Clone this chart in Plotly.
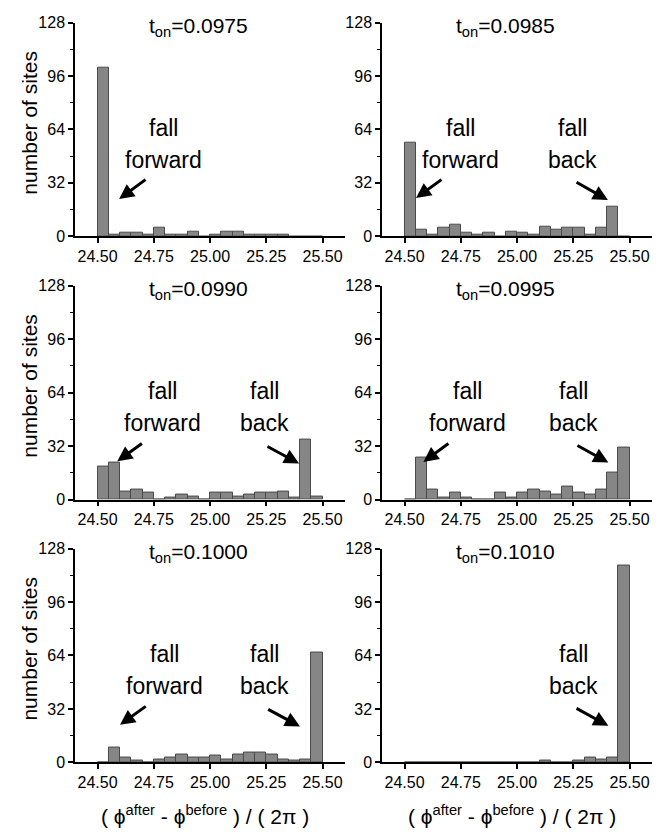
import plotly.graph_objects as go

# ---- data ----
bin_lefts = [24.50, 24.55, 24.60, 24.65, 24.70, 24.75, 24.80, 24.85, 24.90, 24.95,
             25.00, 25.05, 25.10, 25.15, 25.20, 25.25, 25.30, 25.35, 25.40, 25.45]
bin_width = 0.05
ton_labels = ["0.0975", "0.0985", "0.0990", "0.0995", "0.1000", "0.1010"]
counts_0975 = [101, 1, 2, 2, 1, 5, 1, 1, 3, 0, 1, 3, 3, 1, 1, 1, 1, 0, 0, 0]
counts_0985 = [56, 4, 1, 5, 7, 2, 1, 2, 0, 3, 2, 1, 6, 4, 5, 5, 1, 5, 18, 0]
counts_0990 = [20, 22, 5, 6, 4, 0, 1, 3, 2, 0, 4, 4, 2, 3, 4, 4, 5, 1, 36, 2]
counts_0995 = [0, 25, 6, 1, 4, 1, 0, 0, 4, 1, 4, 6, 5, 3, 8, 4, 3, 6, 16, 31]
counts_1000 = [0, 9, 3, 1, 0, 2, 3, 5, 3, 3, 4, 2, 5, 6, 6, 5, 2, 1, 2, 66]
counts_1010 = [0, 0, 0, 0, 0, 0, 0, 0, 0, 0, 0, 0, 1, 0, 0, 1, 3, 2, 3, 118]
x_tick_vals = [24.50, 24.75, 25.00, 25.25, 25.50]
x_tick_text = ["24.50", "24.75", "25.00", "25.25", "25.50"]
y_tick_vals = [0, 32, 64, 96, 128]
y_tick_text = ["0", "32", "64", "96", "128"]

all_counts = [counts_0975, counts_0985, counts_0990, counts_0995, counts_1000, counts_1010]

W, H = 669, 840
FONT = "Liberation Sans, Arial, Helvetica, sans-serif"

col_px = [(75, 345), (382, 652)]
row_px = [(15, 233), (283.3, 501.7), (551.7, 770)]

fig = go.Figure()
layout = dict(
    width=W, height=H,
    margin=dict(l=0, r=0, t=0, b=0),
    paper_bgcolor="white", plot_bgcolor="white",
    showlegend=False, bargap=0,
    font=dict(family=FONT, color="black"),
)
annotations = []

centers = [b + bin_width / 2 for b in bin_lefts]

for i, counts in enumerate(all_counts):
    r, c = i // 2, i % 2
    sfx = "" if i == 0 else str(i + 1)
    xa, ya = "x" + sfx, "y" + sfx
    fig.add_trace(go.Bar(
        x=centers, y=counts, width=[bin_width] * len(centers),
        marker=dict(color="#868686", line=dict(color="#4a4a4a", width=1)),
        xaxis=xa, yaxis=ya, hoverinfo="x+y",
    ))
    x0, x1 = col_px[c]
    y0, y1 = row_px[r]
    layout["xaxis" + sfx] = dict(
        domain=[x0 / W, x1 / W], anchor=ya, range=[24.4, 25.6],
        tickvals=x_tick_vals, ticktext=x_tick_text,
        ticks="outside", ticklen=5, tickwidth=1.5, tickcolor="black",
        showline=True, linecolor="black", linewidth=1.5,
        showgrid=False, zeroline=False,
        tickfont=dict(size=16, family=FONT, color="black"),
    )
    layout["yaxis" + sfx] = dict(
        domain=[1 - y1 / H, 1 - y0 / H], anchor=xa, range=[0, 128],
        tickvals=y_tick_vals, ticktext=y_tick_text,
        ticks="outside", ticklen=5, tickwidth=1.5, tickcolor="black",
        minor=dict(tickvals=[16, 48, 80, 112], ticks="outside", ticklen=3,
                   tickwidth=1, tickcolor="black"),
        showline=True, linecolor="black", linewidth=1.5,
        showgrid=False, zeroline=False,
        tickfont=dict(size=16, family=FONT, color="black"),
    )
    # panel title
    annotations.append(dict(
        x=24.95, y=125.5, xref=xa, yref=ya, showarrow=False,
        text="t<sub>on</sub>=" + ton_labels[i],
        font=dict(size=21, family=FONT, color="black"),
        xanchor="center", yanchor="middle",
    ))
    if c == 0:
        annotations.append(dict(
            x=30 / W, y=1 - ((y0 + y1) / 2 - 7) / H, xref="paper", yref="paper",
            text="number of sites", textangle=-90, showarrow=False,
            font=dict(size=21, family=FONT, color="black"),
            xanchor="center", yanchor="middle",
        ))

# "fall forward" / "fall back" labels (panel index, text x, second word)
labels = [
    (0, 24.795, "forward"),
    (1, 24.747, "forward"), (1, 25.246, "back"),
    (2, 24.787, "forward"), (2, 25.244, "back"),
    (3, 24.782, "forward"), (3, 25.253, "back"),
    (4, 24.796, "forward"), (4, 25.244, "back"),
    (5, 25.249, "back"),
]
for (i, tx, word) in labels:
    sfx = "" if i == 0 else str(i + 1)
    for txt, ty in (("fall", 65), (word, 46)):
        annotations.append(dict(
            x=tx, y=ty, xref="x" + sfx, yref="y" + sfx, text=txt, showarrow=False,
            font=dict(size=23, family=FONT, color="black"),
            xanchor="center", yanchor="middle",
        ))

arrows = [
    (0, 24.596, 22.3, 24.72, 34.6),
    (1, 24.551, 22.9, 24.671, 34.6), (1, 25.404, 21.7, 25.258, 32.9),
    (2, 24.588, 22.9, 24.704, 34.2), (2, 25.396, 21.5, 25.249, 32.2),
    (3, 24.584, 22.5, 24.702, 34.2), (3, 25.406, 22.1, 25.262, 32.8),
    (4, 24.600, 22.5, 24.721, 34.2), (4, 25.400, 21.5, 25.252, 32.2),
    (5, 25.406, 21.9, 25.258, 32.8),
]
for (i, hx, hy, tx, ty) in arrows:
    sfx = "" if i == 0 else str(i + 1)
    annotations.append(dict(
        x=hx, y=hy, ax=tx, ay=ty, xref="x" + sfx, yref="y" + sfx,
        axref="x" + sfx, ayref="y" + sfx, text="", showarrow=True,
        arrowhead=2, arrowsize=1, arrowwidth=3, arrowcolor="black", standoff=0,
    ))

# x-axis titles
for c in range(2):
    x0, x1 = col_px[c]
    annotations.append(dict(
        x=((x0 + x1) / 2 - 5) / W, y=1 - 824 / H, xref="paper", yref="paper",
        text="( ϕ<sup>after</sup> - ϕ<sup>before</sup> ) / ( 2π )", showarrow=False,
        font=dict(size=21, family=FONT, color="black"),
        xanchor="center", yanchor="middle",
    ))

layout["annotations"] = annotations
fig.update_layout(**layout)
fig.write_html("out.html")
